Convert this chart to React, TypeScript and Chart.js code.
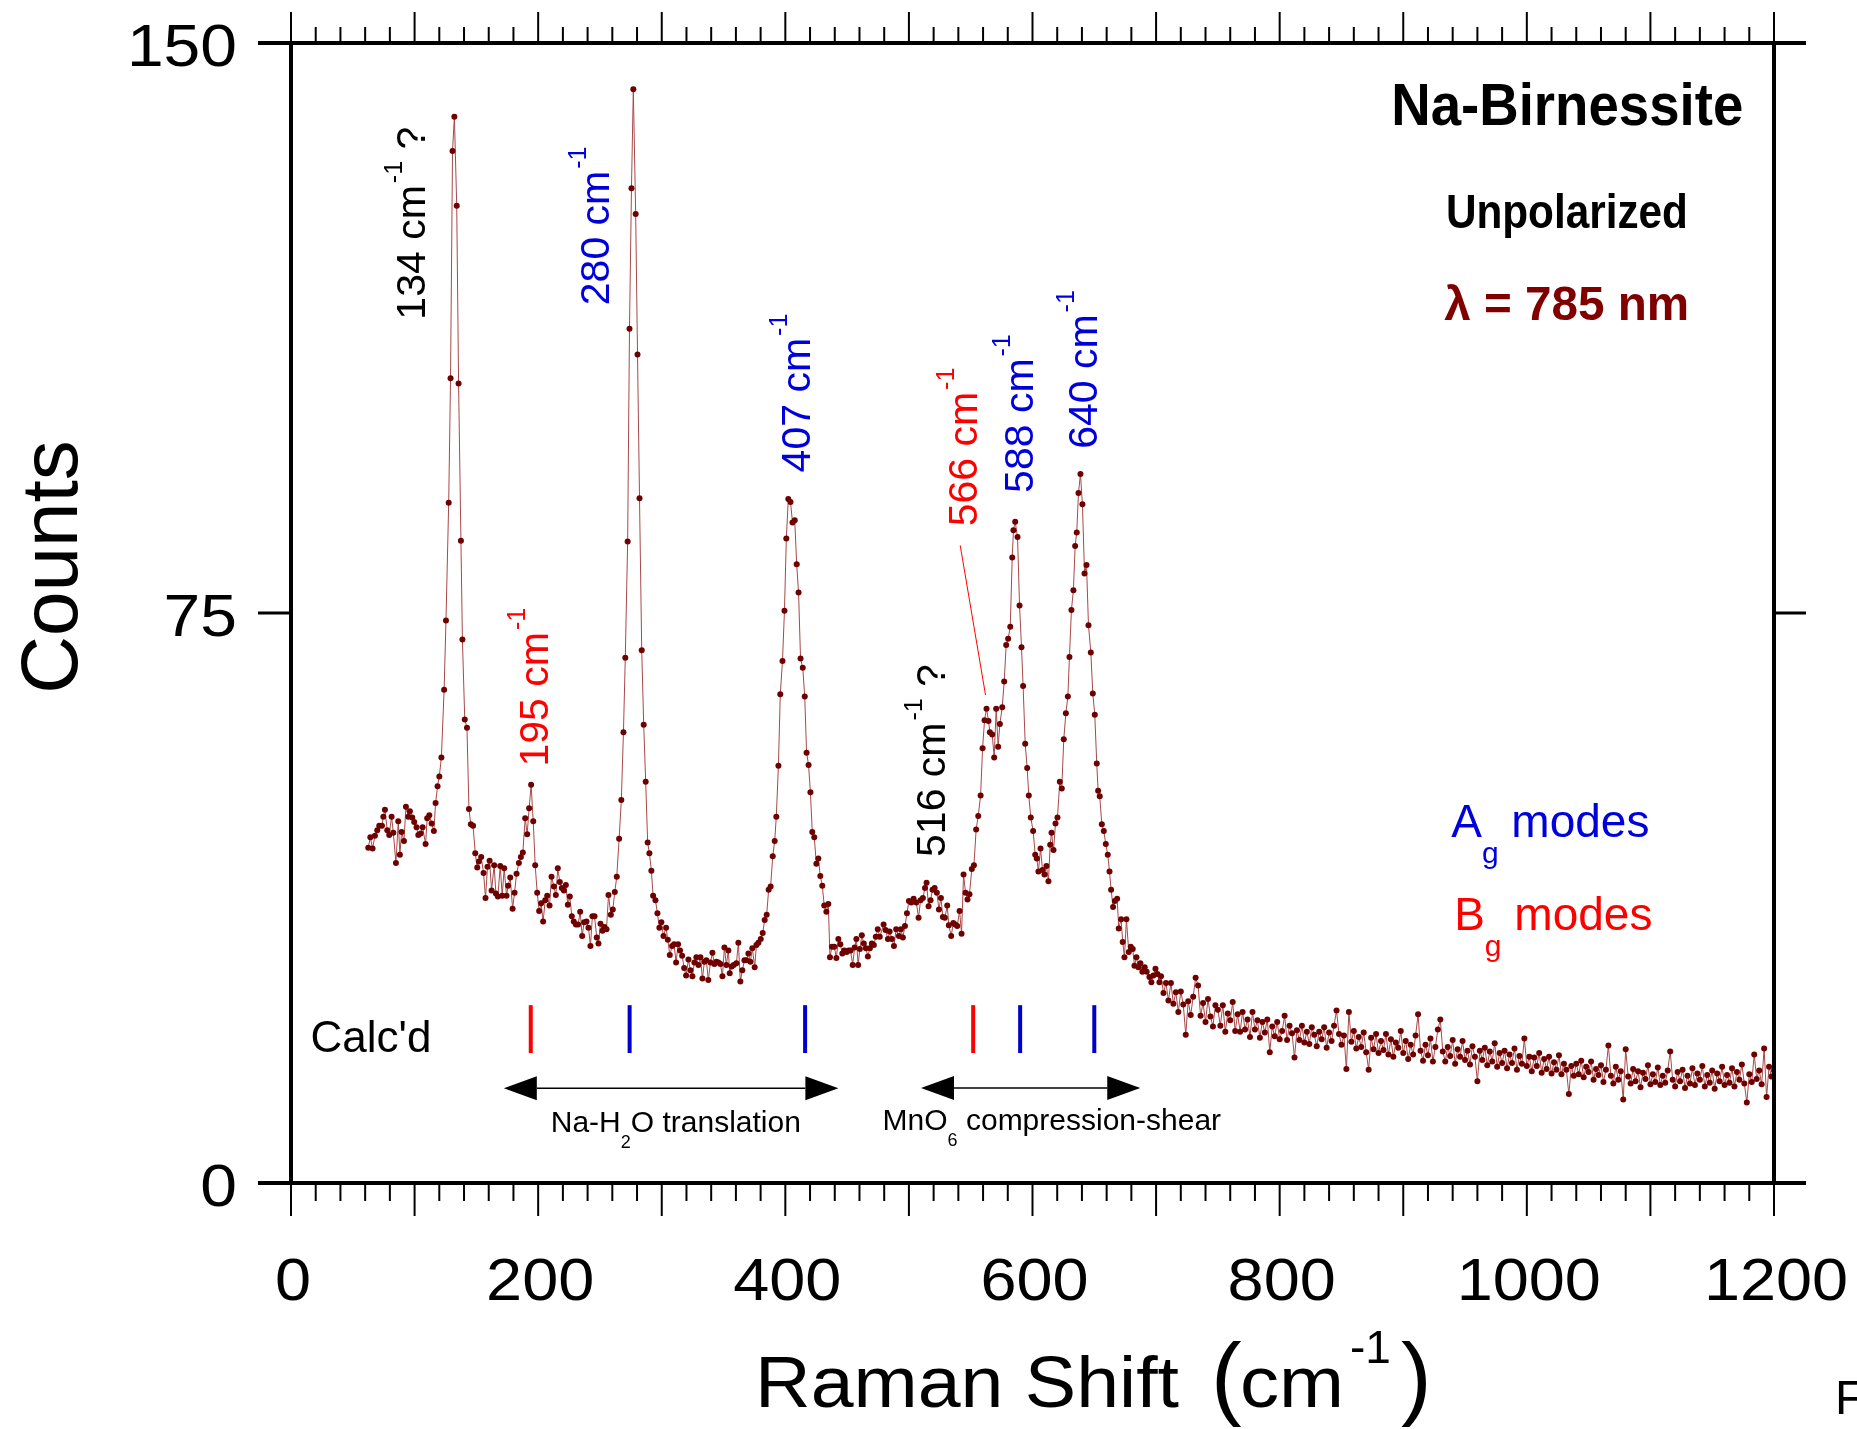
import React, { useEffect, useRef } from 'react';
import { Chart, registerables } from 'chart.js';

Chart.register(...registerables);

const FONT = '"Liberation Sans", Arial, Helvetica, sans-serif';
const BLUE = '#0000dd';
const RED = '#ff0000';
const DARK_RED = '#800000';

// Raman spectrum, low-frequency part (cm-1, counts)
const peakShifts = [
  62.5, 64.2, 66.0, 67.9, 69.8, 71.4, 73.6, 74.7, 76.0, 77.9,
  79.5, 81.4, 82.8, 84.9, 86.8, 88.1, 89.5, 91.4, 93.0, 94.9,
  96.2, 98.1, 99.7, 101.6, 103.0, 104.9, 106.5, 108.9, 110.2, 111.9,
  113.8, 115.6, 117.0, 118.6, 120.0, 121.7, 123.9, 125.4, 127.6, 129.1,
  130.7, 132.2, 134.1, 135.6, 137.5, 138.7, 140.6, 142.4, 144.0, 145.5,
  147.3, 149.1, 150.7, 152.0, 153.9, 155.8, 157.4, 159.0, 160.7, 162.3,
  164.4, 165.8, 167.4, 169.3, 170.9, 172.5, 174.4, 175.7, 177.4, 179.3,
  180.9, 182.5, 184.4, 186.0, 187.6, 189.5, 191.1, 192.7, 194.3, 196.0,
  197.6, 199.2, 200.8, 202.4, 204.0, 205.7, 207.3, 209.2, 210.8, 212.7,
  214.3, 215.9, 217.5, 219.1, 220.8, 222.4, 224.0, 225.6, 227.2, 228.8,
  230.5, 232.3, 234.0, 235.6, 237.2, 239.1, 240.7, 242.3, 243.9, 245.6,
  247.4, 248.8, 250.4, 252.0, 253.6, 255.3, 256.9, 258.8, 260.4, 262.0,
  263.6, 265.5, 267.3, 269.0, 270.5, 272.4, 273.9, 275.5, 277.0, 278.9,
  280.4, 282.0, 283.8, 285.4, 287.0, 288.6, 290.0, 291.6, 293.0, 294.9,
  296.5, 298.1, 299.7, 301.4, 303.5, 304.9, 306.5, 308.4, 310.0, 311.6,
  313.2, 314.8, 316.5, 318.1, 319.7, 321.6, 323.2, 324.8, 326.4, 328.0,
  329.7, 331.3, 332.9, 334.5, 336.1, 337.7, 339.4, 341.0, 342.6, 344.2,
  345.8, 347.5, 349.1, 350.7, 352.3, 353.9, 355.0, 356.6, 358.2, 360.4,
  362.0, 363.6, 365.2, 366.9, 368.5, 370.1, 371.7, 373.3, 375.2, 376.6,
  378.2, 380.1, 381.7, 383.3, 384.9, 386.5, 388.1, 389.8, 391.4, 392.7,
  394.4, 395.9, 397.7, 399.3, 400.8, 402.4, 404.2, 405.8, 407.6, 409.2,
  410.7, 412.3, 414.1, 415.7, 417.2, 418.8, 420.3, 421.8, 423.4, 425.1,
  426.7, 428.3, 429.9, 431.5, 433.2, 434.8, 436.1, 437.7, 439.6, 441.3,
  442.9, 444.5, 446.1, 447.7, 449.6, 451.2, 452.8, 454.5, 456.1, 457.5,
  458.9, 460.3, 461.9, 463.5, 465.2, 466.8, 468.4, 470.0, 471.6, 473.2,
  474.8, 476.4, 479.5, 481.1, 483.0, 484.4, 486.2, 487.9, 489.7, 491.9,
  493.5, 495.1, 496.8, 498.4, 500.0, 501.9, 503.8, 506.0, 507.8, 509.4,
  511.3, 513.0, 514.3, 515.9, 517.5, 519.1, 520.8, 522.6, 524.3, 525.9,
  527.5, 529.1, 531.0, 532.3, 534.2, 535.9, 537.5, 539.1, 541.0, 542.6,
  544.2, 545.8, 547.4, 549.0, 550.9, 552.6, 554.4, 556.1, 558.0, 559.6,
  561.2, 562.8, 564.4, 565.5, 567.4, 569.0, 570.6, 572.2, 573.6, 575.5,
  577.1, 578.7, 580.3, 582.0, 583.6, 584.6, 586.0, 587.9, 589.5, 591.1,
  592.4, 594.1, 595.7, 597.0, 598.6, 600.5, 602.2, 603.5, 604.8, 606.5,
  608.1, 609.7, 611.3, 612.9, 614.3, 615.4, 617.0, 618.6, 620.2, 622.1,
  623.7, 625.3, 627.0, 628.6, 629.9, 631.5, 633.1, 634.5, 635.8, 637.2,
  638.8, 640.4, 642.1, 643.7, 645.3, 647.2, 648.8, 650.4, 652.0, 653.1,
  654.4, 656.1, 657.7, 659.3, 660.9, 662.3, 663.6, 665.2, 666.6, 668.5,
  669.8, 671.7, 673.0, 674.4, 676.0, 677.9, 679.5, 681.1, 682.5, 684.1,
  685.7, 687.3, 688.9, 690.8, 692.4, 694.6, 696.2, 697.8, 699.5, 701.1,
  702.7,
];

const peakCounts = [
  44.1, 45.5, 44.0, 45.7, 46.4, 47.0, 47.0, 48.2, 49.1, 46.4,
  45.8, 48.2, 46.1, 42.1, 47.6, 43.2, 46.2, 45.0, 49.5, 48.2,
  48.9, 48.1, 47.5, 46.8, 45.8, 46.0, 46.8, 44.6, 48.0, 48.4,
  47.3, 46.3, 50.0, 52.2, 53.5, 56.0, 64.9, 74.0, 89.5, 105.9,
  135.8, 140.3, 128.6, 105.2, 84.5, 71.5, 61.0, 59.9, 49.2, 47.2,
  47.0, 43.4, 41.5, 42.3, 42.9, 40.8, 37.5, 41.6, 42.4, 38.5,
  41.8, 38.1, 37.7, 41.7, 37.8, 41.4, 37.8, 39.1, 40.2, 36.1,
  38.2, 40.7, 42.1, 42.9, 43.5, 48.0, 45.9, 49.3, 52.4, 47.6,
  41.8, 38.2, 35.8, 36.8, 34.4, 37.2, 37.8, 36.5, 40.3, 39.0,
  37.9, 41.4, 39.6, 38.8, 38.5, 39.2, 36.6, 37.7, 35.1, 34.4,
  34.0, 34.0, 35.7, 32.5, 34.3, 34.4, 33.6, 31.2, 35.1, 35.1,
  32.3, 31.5, 34.1, 33.2, 33.7, 33.4, 37.9, 35.3, 36.0, 38.3,
  40.3, 45.3, 50.4, 59.3, 69.1, 84.4, 112.4, 130.9, 143.9, 127.5,
  109.0, 90.1, 70.1, 60.3, 52.8, 44.8, 43.4, 41.1, 37.8, 37.2,
  35.5, 33.6, 34.3, 32.5, 33.6, 32.0, 30.0, 31.2, 31.4, 29.0,
  31.4, 30.6, 29.9, 28.3, 27.3, 29.4, 28.0, 27.2, 29.0, 29.7,
  28.7, 29.7, 26.9, 29.1, 29.3, 26.7, 29.0, 30.3, 28.8, 29.1,
  29.0, 28.8, 27.2, 31.0, 28.7, 30.6, 27.6, 28.5, 28.7, 28.9,
  31.6, 26.5, 28.0, 29.3, 29.3, 30.2, 29.1, 30.9, 28.4, 31.3,
  31.6, 32.1, 32.9, 34.6, 35.3, 38.6, 39.0, 43.0, 45.0, 48.2,
  54.9, 64.3, 68.7, 75.3, 84.8, 90.0, 89.6, 86.9, 87.2, 81.4,
  77.7, 69.0, 67.8, 64.0, 56.6, 55.0, 51.4, 46.2, 45.5, 42.0,
  42.7, 40.4, 39.1, 36.5, 35.7, 36.7, 29.7, 31.1, 31.1, 29.6,
  32.1, 31.4, 30.2, 30.6, 30.4, 30.6, 30.6, 28.7, 31.0, 32.1,
  28.7, 30.8, 32.6, 31.5, 30.9, 29.8, 30.9, 31.5, 31.3, 32.4,
  33.4, 32.4, 34.0, 33.3, 32.1, 33.1, 32.1, 31.2, 33.4, 32.5,
  33.4, 32.3, 33.8, 35.5, 37.1, 36.9, 37.4, 36.9, 34.9, 37.2,
  37.5, 38.8, 39.5, 36.4, 37.2, 38.6, 38.8, 38.2, 36.0, 37.5,
  35.0, 34.9, 36.5, 33.9, 32.5, 34.2, 34.0, 33.8, 35.8, 32.8,
  40.6, 38.2, 37.3, 38.0, 41.3, 41.8, 46.5, 48.3, 51.0, 57.2,
  60.9, 62.4, 60.8, 59.3, 59.0, 56.0, 62.4, 57.4, 60.4, 62.6,
  66.0, 70.8, 71.6, 73.2, 82.3, 85.9, 87.0, 85.0, 76.0, 70.5,
  65.4, 57.8, 54.6, 51.0, 48.1, 46.3, 43.2, 42.7, 41.0, 44.0,
  41.2, 40.6, 41.7, 39.7, 44.5, 46.1, 43.8, 47.3, 48.1, 52.8,
  51.9, 58.4, 61.8, 64.0, 69.2, 75.4, 78.0, 83.8, 85.6, 90.8,
  93.3, 89.3, 80.2, 81.3, 73.4, 69.8, 64.4, 61.6, 55.2, 51.6,
  50.9, 47.2, 46.3, 44.6, 43.2, 41.0, 38.6, 36.3, 37.1, 37.4,
  33.5, 34.7, 31.7, 29.7, 34.7, 30.4, 31.1, 30.8, 28.6, 29.7,
  28.4, 28.9, 27.8, 28.4, 27.8, 27.1, 26.4, 27.3, 28.2, 27.5,
  26.4,
];

// Raman spectrum, high-frequency tail (cm-1, counts)
const tailShifts = [
  704, 706, 708, 710, 712, 714, 716, 718, 720, 722,
  724, 726, 728, 730, 732, 734, 736, 738, 740, 742,
  744, 746, 748, 750, 752, 754, 756, 758, 760, 762,
  764, 766, 768, 770, 772, 774, 776, 778, 780, 782,
  784, 786, 788, 790, 792, 794, 796, 798, 800, 802,
  804, 806, 808, 810, 812, 814, 816, 818, 820, 822,
  824, 826, 828, 830, 832, 834, 836, 838, 840, 842,
  844, 846, 848, 850, 852, 854, 856, 858, 860, 862,
  864, 866, 868, 870, 872, 874, 876, 878, 880, 882,
  884, 886, 888, 890, 892, 894, 896, 898, 900, 902,
  904, 906, 908, 910, 912, 914, 916, 918, 920, 922,
  924, 926, 928, 930, 932, 934, 936, 938, 940, 942,
  944, 946, 948, 950, 952, 954, 956, 958, 960, 962,
  964, 966, 968, 970, 972, 974, 976, 978, 980, 982,
  984, 986, 988, 990, 992, 994, 996, 998, 1000, 1002,
  1004, 1006, 1008, 1010, 1012, 1014, 1016, 1018, 1020, 1022,
  1024, 1026, 1028, 1030, 1032, 1034, 1036, 1038, 1040, 1042,
  1044, 1046, 1048, 1050, 1052, 1054, 1056, 1058, 1060, 1062,
  1064, 1066, 1068, 1070, 1072, 1074, 1076, 1078, 1080, 1082,
  1084, 1086, 1088, 1090, 1092, 1094, 1096, 1098, 1100, 1102,
  1104, 1106, 1108, 1110, 1112, 1114, 1116, 1118, 1120, 1122,
  1124, 1126, 1128, 1130, 1132, 1134, 1136, 1138, 1140, 1142,
  1144, 1146, 1148, 1150, 1152, 1154, 1156, 1158, 1160, 1162,
  1164, 1166, 1168, 1170, 1172, 1174, 1176, 1178, 1180, 1182,
  1184, 1186, 1188, 1190, 1192, 1194, 1196, 1198, 1200,
];

const tailCounts = [
  27.2, 25.0, 26.3, 24.0, 26.3, 23.6, 25.1, 22.5, 25.2, 23.5,
  19.5, 23.9, 22.1, 24.5, 27.0, 26.0, 22.0, 23.7, 21.2, 24.2,
  21.9, 20.6, 23.4, 22.8, 20.7, 23.4, 19.9, 22.3, 21.4, 23.8,
  20.0, 22.2, 19.9, 22.5, 20.2, 21.5, 19.2, 22.5, 20.2, 21.4,
  19.1, 21.2, 19.8, 21.5, 17.2, 20.6, 19.3, 21.2, 18.9, 20.0,
  22.0, 18.8, 20.7, 19.7, 16.5, 20.1, 18.8, 20.7, 18.5, 19.9,
  18.3, 20.5, 19.5, 18.0, 19.9, 18.9, 20.5, 17.8, 19.8, 18.7,
  20.7, 22.7, 19.6, 18.2, 19.4, 15.0, 22.5, 18.6, 20.0, 17.7,
  19.2, 17.9, 19.8, 17.2, 14.9, 19.1, 17.6, 19.6, 17.1, 18.7,
  17.5, 19.6, 16.9, 18.9, 16.6, 18.5, 17.8, 20.0, 17.1, 18.7,
  16.3, 18.2, 16.9, 19.4, 22.2, 17.4, 16.1, 18.2, 16.8, 19.0,
  16.0, 17.9, 20.2, 21.5, 17.3, 16.0, 17.9, 16.7, 18.8, 15.7,
  17.6, 16.6, 18.7, 16.2, 17.4, 15.6, 18.0, 16.6, 13.4, 17.4,
  16.2, 17.8, 15.5, 17.3, 16.0, 18.4, 15.3, 17.1, 15.8, 17.4,
  15.1, 16.9, 15.8, 17.7, 14.9, 16.7, 15.7, 19.0, 15.4, 16.6,
  14.7, 16.5, 15.4, 17.1, 14.5, 16.3, 15.0, 16.6, 14.4, 15.9,
  14.9, 16.8, 14.3, 15.7, 14.9, 11.7, 15.4, 14.1, 15.7, 14.3,
  16.1, 13.9, 15.3, 14.6, 16.0, 13.6, 15.0, 14.2, 15.5, 13.3,
  14.9, 18.1, 14.1, 13.1, 15.3, 13.6, 14.7, 11.0, 17.6, 14.0,
  13.1, 15.0, 13.4, 14.7, 12.6, 14.5, 13.7, 15.5, 13.0, 14.3,
  13.3, 15.2, 12.9, 14.1, 13.2, 14.8, 17.3, 13.6, 12.7, 14.6,
  13.4, 14.9, 12.5, 14.1, 13.1, 15.1, 12.9, 14.4, 13.6, 15.4,
  12.7, 14.2, 13.2, 14.8, 12.4, 14.4, 13.4, 15.3, 12.9, 14.2,
  13.2, 15.1, 12.7, 14.6, 13.6, 15.6, 13.1, 10.6, 14.3, 13.3,
  16.9, 13.7, 14.8, 13.0, 17.7, 11.3, 15.3, 14.0, 14.8,
];

// Calculated mode positions (cm-1)
const calcAModes = [274, 416, 590, 650];
const calcBModes = [194, 552];

// Axis ticks
const xMajorTicks = [0, 100, 200, 300, 400, 500, 600, 700, 800, 900, 1000, 1100, 1200];
const xTickLabels = [0, 200, 400, 600, 800, 1000, 1200];
const xMinorStep = 20;
const yTicks = [0, 75, 150];

// Peak labels (wavenumber text, colour, anchor in data units)
const peakLabels = [
  { text: '134', color: '#000000', x: 108.4, y: 113.6, question: true },
  { text: '280', color: BLUE, x: 257.1, y: 115.5, question: false },
  { text: '195', color: RED, x: 207.8, y: 54.8, question: false },
  { text: '407', color: BLUE, x: 419.6, y: 93.5, question: false },
  { text: '516', color: '#000000', x: 529.6, y: 42.9, question: true },
  { text: '566', color: RED, x: 554.7, y: 86.4, question: false },
  { text: '588', color: BLUE, x: 600.0, y: 90.8, question: false },
  { text: '640', color: BLUE, x: 652.5, y: 96.6, question: false },
];

function fitText(ctx: CanvasRenderingContext2D, text: string, x: number, y: number, font: string, width?: number, align: string = 'left', scale?: number) {
  ctx.font = font;
  const w = ctx.measureText(text).width;
  const sx = width ? width / w : scale || 1;
  const tw = w * sx;
  const left = align === 'center' ? x - tw / 2 : align === 'right' ? x - tw : x;
  ctx.save();
  ctx.translate(left, y);
  ctx.scale(sx, 1);
  ctx.textAlign = 'left';
  ctx.textBaseline = 'alphabetic';
  ctx.fillText(text, 0, 0);
  ctx.restore();
  return tw;
}

function drawRotLabel(ctx: CanvasRenderingContext2D, px: number, py: number, num: string, color: string, question: boolean) {
  const fs = 41;
  ctx.save();
  ctx.translate(px, py);
  ctx.rotate(-Math.PI / 2);
  ctx.fillStyle = color;
  ctx.textAlign = 'left';
  ctx.textBaseline = 'alphabetic';
  ctx.font = `${fs}px ${FONT}`;
  const main = `${num} cm`;
  ctx.fillText(main, 0, 0);
  let w = ctx.measureText(main).width + 2;
  ctx.font = `25px ${FONT}`;
  ctx.fillText('-1', w, -23);
  w += ctx.measureText('-1').width;
  if (question) {
    ctx.font = `${fs}px ${FONT}`;
    ctx.fillText(' ?', w, 0);
  }
  ctx.restore();
}

function drawDoubleArrow(ctx: CanvasRenderingContext2D, x1: number, x2: number, y: number) {
  const head = 33;
  const half = 12;
  ctx.save();
  ctx.strokeStyle = '#000';
  ctx.fillStyle = '#000';
  ctx.lineWidth = 1.5;
  ctx.beginPath();
  ctx.moveTo(x1 + head, y);
  ctx.lineTo(x2 - head, y);
  ctx.stroke();
  ctx.beginPath();
  ctx.moveTo(x1, y);
  ctx.lineTo(x1 + head, y - half);
  ctx.lineTo(x1 + head, y + half);
  ctx.closePath();
  ctx.fill();
  ctx.beginPath();
  ctx.moveTo(x2, y);
  ctx.lineTo(x2 - head, y - half);
  ctx.lineTo(x2 - head, y + half);
  ctx.closePath();
  ctx.fill();
  ctx.restore();
}

function drawSubText(ctx: CanvasRenderingContext2D, x: number, y: number, pre: string, sub: string, post: string, fs: number, subFs: number, subDy: number, color: string) {
  ctx.save();
  ctx.fillStyle = color;
  ctx.textAlign = 'left';
  ctx.textBaseline = 'alphabetic';
  ctx.font = `${fs}px ${FONT}`;
  ctx.fillText(pre, x, y);
  let w = ctx.measureText(pre).width;
  ctx.font = `${subFs}px ${FONT}`;
  ctx.fillText(sub, x + w, y + subDy);
  w += ctx.measureText(sub).width;
  ctx.font = `${fs}px ${FONT}`;
  ctx.fillText(post, x + w, y);
  ctx.restore();
}

const framePlugin = {
  id: 'ramanFrame',
  afterDraw(chart: any) {
    const { ctx, chartArea: a, scales } = chart;
    const xs = scales.x;
    const ys = scales.y;
    const X = (v: number) => xs.getPixelForValue(v);
    const Y = (v: number) => ys.getPixelForValue(v);
    ctx.save();

    // Frame
    ctx.strokeStyle = '#000';
    ctx.lineCap = 'butt';
    ctx.lineWidth = 4;
    ctx.beginPath();
    ctx.moveTo(a.left, a.top - 2);
    ctx.lineTo(a.left, a.bottom + 2);
    ctx.moveTo(a.right, a.top - 2);
    ctx.lineTo(a.right, a.bottom + 2);
    ctx.moveTo(a.left - 33, a.top);
    ctx.lineTo(a.right + 32, a.top);
    ctx.moveTo(a.left - 33, a.bottom);
    ctx.lineTo(a.right + 32, a.bottom);
    ctx.stroke();

    // y ticks
    ctx.lineWidth = 3;
    ctx.beginPath();
    for (const t of yTicks) {
      const py = Y(t);
      ctx.moveTo(a.left - 33, py);
      ctx.lineTo(a.left, py);
      ctx.moveTo(a.right, py);
      ctx.lineTo(a.right + 32, py);
    }
    ctx.stroke();

    // x ticks
    ctx.lineWidth = 2;
    ctx.beginPath();
    const xMin = xMajorTicks[0];
    const xMax = xMajorTicks[xMajorTicks.length - 1];
    for (let v = xMin; v <= xMax; v += xMinorStep) {
      const major = xMajorTicks.includes(v);
      const px = X(v);
      ctx.moveTo(px, a.bottom);
      ctx.lineTo(px, a.bottom + (major ? 33 : 18));
      ctx.moveTo(px, a.top);
      ctx.lineTo(px, a.top - (major ? 31 : 16));
    }
    ctx.stroke();

    // tick labels
    ctx.fillStyle = '#000';
    for (const t of xTickLabels) {
      fitText(ctx, String(t), X(t) + 2, a.bottom + 117, `60px ${FONT}`, undefined, 'center', 1.08);
    }
    for (const t of yTicks) {
      fitText(ctx, String(t), a.left - 54, Y(t) + 23, `60px ${FONT}`, undefined, 'right', 1.1);
    }

    // axis titles
    const titleFont = `72px ${FONT}`;
    const tb = a.bottom + 224;
    fitText(ctx, 'Raman Shift', a.left + 464, tb, titleFont, 424);
    fitText(ctx, '(', a.left + 920, tb + 1, `92px ${FONT}`);
    fitText(ctx, 'cm', a.left + 949, tb, titleFont, 104);
    fitText(ctx, '-1', a.left + 1059, tb - 44, `46px ${FONT}`);
    fitText(ctx, ')', a.left + 1110, tb + 1, `92px ${FONT}`);

    ctx.save();
    ctx.translate(a.left - 214, 567);
    ctx.rotate(-Math.PI / 2);
    ctx.font = `80px ${FONT}`;
    ctx.textAlign = 'center';
    ctx.fillText('Counts', 0, 0);
    ctx.restore();

    ctx.font = `48px ${FONT}`;
    ctx.textAlign = 'left';
    ctx.fillText('F', X(1249.3), Y(-30.4));

    // peak labels
    for (const p of peakLabels) {
      drawRotLabel(ctx, X(p.x), Y(p.y), p.text, p.color, p.question);
    }
    // leader line for 566
    ctx.strokeStyle = RED;
    ctx.lineWidth = 1;
    ctx.beginPath();
    ctx.moveTo(X(541.5), Y(83.9));
    ctx.lineTo(X(562.0), Y(64.2));
    ctx.stroke();

    // sample info
    ctx.fillStyle = '#000';
    fitText(ctx, 'Na-Birnessite', X(890.3), Y(139.2), `bold 60px ${FONT}`, 352);
    fitText(ctx, 'Unpolarized', X(934.5), Y(125.6), `bold 49px ${FONT}`, 242);
    ctx.fillStyle = DARK_RED;
    fitText(ctx, 'λ = 785 nm', X(933.1), Y(113.5), `bold 48px ${FONT}`, 245);

    // legend for modes
    drawSubText(ctx, X(938.8), Y(45.5), 'A', 'g', ' modes', 46, 30, 26, BLUE);
    drawSubText(ctx, X(941.2), Y(33.3), 'B', 'g', ' modes', 46, 30, 26, RED);

    // Calc'd label
    ctx.fillStyle = '#000';
    fitText(ctx, "Calc'd", X(15.8), Y(17.2), `44px ${FONT}`);

    // arrows
    drawDoubleArrow(ctx, X(172.2), X(442.9), Y(12.46));
    drawDoubleArrow(ctx, X(509.8), X(687.2), Y(12.5));
    drawSubText(ctx, X(210.2), Y(6.75), 'Na-H', '2', 'O translation', 30, 18, 16, '#000');
    drawSubText(ctx, X(478.7), Y(6.97), 'MnO', '6', ' compression-shear', 30, 18, 16, '#000');

    ctx.restore();
  },
};

export default function App() {
  const ref = useRef<HTMLCanvasElement>(null);
  useEffect(() => {
    const canvas = ref.current;
    if (!canvas) return;
    const spectrum = [
      ...peakShifts.map((s, i) => ({ x: s, y: peakCounts[i] })),
      ...tailShifts.map((s, i) => ({ x: s, y: tailCounts[i] })),
    ];
    const markLow = 17.1;
    const markHigh = 23.4;
    const calcSets = [
      ...calcAModes.map((v) => ({
        data: [{ x: v, y: markLow }, { x: v, y: markHigh }],
        borderColor: '#0000cc',
        borderWidth: 4,
        pointRadius: 0,
        borderCapStyle: 'butt',
      })),
      ...calcBModes.map((v) => ({
        data: [{ x: v, y: markLow }, { x: v, y: markHigh }],
        borderColor: RED,
        borderWidth: 4,
        pointRadius: 0,
        borderCapStyle: 'butt',
      })),
    ];
    const chart = new Chart(canvas, {
      type: 'line',
      data: {
        datasets: [
          {
            data: spectrum,
            borderColor: '#a84848',
            borderWidth: 1,
            pointRadius: 3,
            pointBackgroundColor: '#6e0000',
            pointBorderColor: '#6e0000',
            pointBorderWidth: 0,
            tension: 0,
          } as any,
          ...(calcSets as any[]),
        ],
      },
      options: {
        animation: false,
        responsive: false,
        devicePixelRatio: 1,
        events: [],
        layout: { padding: { left: 291, top: 43, right: 83, bottom: 246 } },
        scales: {
          x: { type: 'linear', min: 0, max: 1200, display: false },
          y: { type: 'linear', min: 0, max: 150, display: false },
        },
        plugins: { legend: { display: false }, tooltip: { enabled: false } },
      },
      plugins: [framePlugin],
    });
    return () => chart.destroy();
  }, []);
  return (
    <canvas
      ref={ref}
      width={1857}
      height={1429}
      style={{ position: 'fixed', left: 0, top: 0, width: '1857px', height: '1429px', background: '#fff' }}
    />
  );
}
